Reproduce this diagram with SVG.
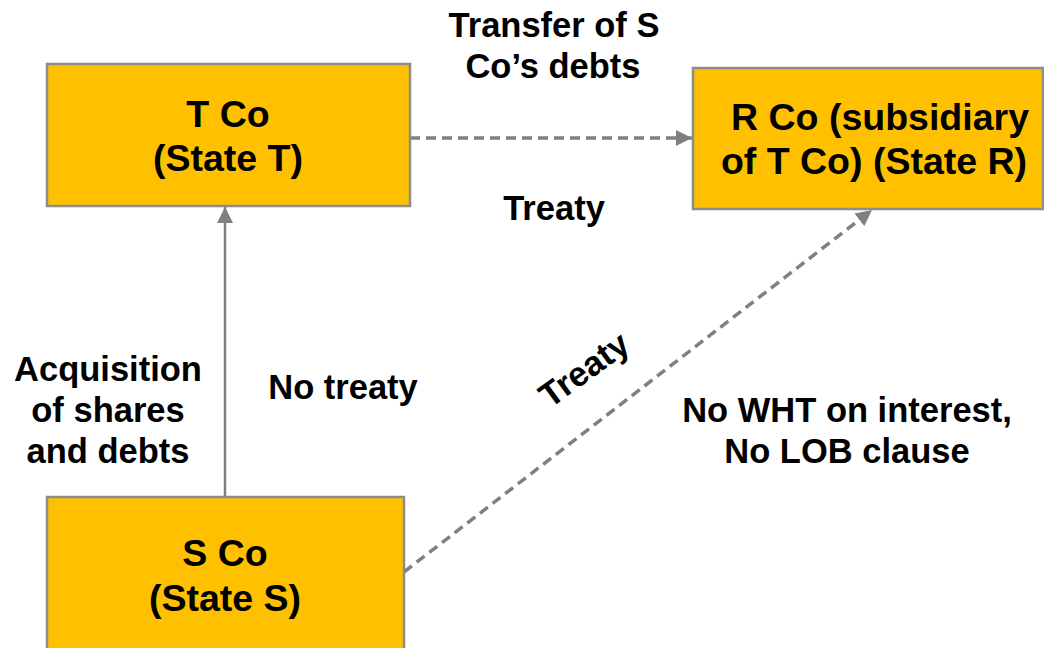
<svg xmlns="http://www.w3.org/2000/svg" width="1044" height="648" viewBox="0 0 1044 648">
  <style>
    .box { fill: #FFC000; stroke: #8C8C8C; stroke-width: 2.5; }
    .lbl { font-family: "Liberation Sans", Arial, sans-serif; font-weight: bold; fill: #000; text-anchor: middle; }
    .big { font-size: 37.5px; }
    .mid { font-size: 34.5px; }
    .edge { fill: none; stroke: #808080; }
    .dash { stroke-width: 3.5; stroke-dasharray: 10 6; }
    .solid { stroke-width: 2.5; }
  </style>
  <defs>
    <marker id="head" viewBox="0 0 10 10" refX="10" refY="5" markerWidth="16" markerHeight="16" markerUnits="userSpaceOnUse" orient="auto">
      <path d="M0,0 L10,5 L0,10 Z" fill="#808080"/>
    </marker>
  </defs>
  <rect width="1044" height="648" fill="#fff"/>

  <g id="connectors">
    <line class="edge dash" x1="410" y1="138" x2="692" y2="138" marker-end="url(#head)"/>
    <line class="edge solid" x1="225" y1="497" x2="225" y2="207" marker-end="url(#head)"/>
    <line class="edge dash" x1="404" y1="572" x2="872" y2="210" marker-end="url(#head)"/>
  </g>

  <g id="tco">
    <rect class="box" x="47" y="64" width="363" height="142"/>
    <text class="lbl big" x="228" y="127">T Co</text>
    <text class="lbl big" x="228" y="171">(State T)</text>
  </g>

  <g id="rco">
    <rect class="box" x="693" y="68" width="350" height="141"/>
    <text class="lbl big" x="880" y="130">R Co (subsidiary</text>
    <text class="lbl big" x="874" y="174">of T Co) (State R)</text>
  </g>

  <g id="sco">
    <rect class="box" x="47" y="497" width="357" height="160"/>
    <text class="lbl big" x="225" y="566">S Co</text>
    <text class="lbl big" x="225" y="611">(State S)</text>
  </g>

  <g id="labels">
    <text class="lbl mid" x="554" y="37">Transfer of S</text>
    <text class="lbl mid" x="553" y="78">Co’s debts</text>
    <text class="lbl mid" x="554" y="220">Treaty</text>
    <text class="lbl mid" x="108" y="381">Acquisition</text>
    <text class="lbl mid" x="108" y="422">of shares</text>
    <text class="lbl mid" x="108" y="463">and debts</text>
    <text class="lbl mid" x="343" y="399">No treaty</text>
    <text class="lbl mid" x="847" y="422">No WHT on interest,</text>
    <text class="lbl mid" x="847" y="463">No LOB clause</text>
    <text class="lbl mid" transform="translate(591,379) rotate(-36)">Treaty</text>
  </g>
</svg>
